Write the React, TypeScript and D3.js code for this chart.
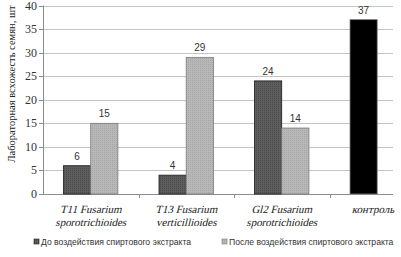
import React from "react";
import * as d3 from "d3";

const categories = [
  ["T11 Fusarium", "sporotrichioides"],
  ["T13 Fusarium", "verticillioides"],
  ["Gl2 Fusarium", "sporotrichioides"],
  ["контроль"],
];
const before = [6, 4, 24, 37];
const after = [15, 29, 14, null];
const yTicks = [0, 5, 10, 15, 20, 25, 30, 35, 40];
const seriesNames = ["До воздействия спиртового экстракта", "После воздействия спиртового экстракта"];
const yTitle = "Лабораторная всхожесть семян, шт";

export default function App() {
  const W = 401, H = 257;
  const left = 43, plotRight = 393;
  const x = d3.scaleBand<number>().domain(d3.range(categories.length)).range([left, 425]);
  const y = d3.scaleLinear().domain([0, 40]).range([194, 5.5]);
  const barW = 27.2;
  const offset = 20.5;
  const serif: React.CSSProperties = { fontFamily: "'Liberation Serif', 'Times New Roman', Times, serif" };
  const sans: React.CSSProperties = { fontFamily: "'Liberation Sans', Arial, sans-serif" };
  return (
    <svg width={W} height={H} style={{ position: "absolute", left: 0, top: 0, background: "#fff" }}>
      <defs>
        <pattern id="pd" width="2" height="2" patternUnits="userSpaceOnUse">
          <rect width="2" height="2" fill="#5e5e5e" />
          <rect width="1" height="1" fill="#4a4a4a" />
        </pattern>
        <pattern id="pl" width="2" height="2" patternUnits="userSpaceOnUse">
          <rect width="2" height="2" fill="#b8b8b8" />
          <rect width="1" height="1" fill="#a6a6a6" />
        </pattern>
      </defs>
      {yTicks.map((t) => (
        <g key={t}>
          {t > 0 && <line x1={left} x2={plotRight} y1={Math.round(y(t)) + 0.5} y2={Math.round(y(t)) + 0.5} stroke="#c4c4c4" />}
          <line x1={left - 4} x2={left} y1={Math.round(y(t)) + 0.5} y2={Math.round(y(t)) + 0.5} stroke="#8c8c8c" />
          <text x={left - 6} y={y(t) + 4} textAnchor="end" style={serif} fontSize={12} fill="#333">{t}</text>
        </g>
      ))}
      <line x1={left + 0.5} x2={left + 0.5} y1={y(40)} y2={y(0)} stroke="#8c8c8c" />
      <line x1={left} x2={plotRight} y1={Math.round(y(0)) + 0.5} y2={Math.round(y(0)) + 0.5} stroke="#8c8c8c" />
      {d3.range(1, categories.length).map((i) => (
        <line key={i} x1={Math.round(x(i)!) + 0.5} x2={Math.round(x(i)!) + 0.5} y1={y(0)} y2={y(0) + 4} stroke="#8c8c8c" />
      ))}
      {before.map((v, i) => {
        const bx = x(i)! + offset;
        const isControl = after[i] === null;
        return (
          <g key={"b" + i}>
            <rect x={bx} y={y(v)} width={barW} height={y(0) - y(v)} fill={isControl ? "#000" : "url(#pd)"} stroke={isControl ? "#7f7f7f" : "#1a1a1a"} strokeWidth={0.8} />
            <text x={bx + barW / 2} y={y(v) - 6} textAnchor="middle" style={sans} fontSize={10} fill="#333">{v}</text>
          </g>
        );
      })}
      {after.map((v, i) =>
        v === null ? null : (
          <g key={"a" + i}>
            <rect x={x(i)! + offset + barW} y={y(v)} width={barW} height={y(0) - y(v)} fill="url(#pl)" stroke="#7a7a7a" strokeWidth={0.8} />
            <text x={x(i)! + offset + barW * 1.5} y={y(v) - 6} textAnchor="middle" style={sans} fontSize={10} fill="#333">{v}</text>
          </g>
        )
      )}
      {categories.map((lines, i) => {
        const cx = i === categories.length - 1 ? 373 : x(i)! + x.bandwidth() / 2;
        return (
          <g key={"c" + i}>
            {lines.map((l, j) => {
              const ty = 213 + j * 13;
              return (
                <text key={j} transform={`translate(${cx}, ${ty}) skewX(-14)`} x={0} y={0} textAnchor="middle" style={serif} fontSize={11} fill="#222">{l}</text>
              );
            })}
          </g>
        );
      })}
      <text transform={`translate(15, ${84}) rotate(-90)`} textAnchor="middle" style={serif} fontSize={10.5} fill="#222">{yTitle}</text>
      {seriesNames.map((n, i) => {
        const lx = i === 0 ? 34 : 222;
        return (
          <g key={"l" + i}>
            <rect x={lx} y={239} width={5} height={5} fill={i === 0 ? "url(#pd)" : "url(#pl)"} stroke={i === 0 ? "#1a1a1a" : "#7a7a7a"} strokeWidth={0.6} />
            <text x={lx + 7} y={244.5} style={sans} fontSize={8.6} fill="#333">{n}</text>
          </g>
        );
      })}
    </svg>
  );
}
